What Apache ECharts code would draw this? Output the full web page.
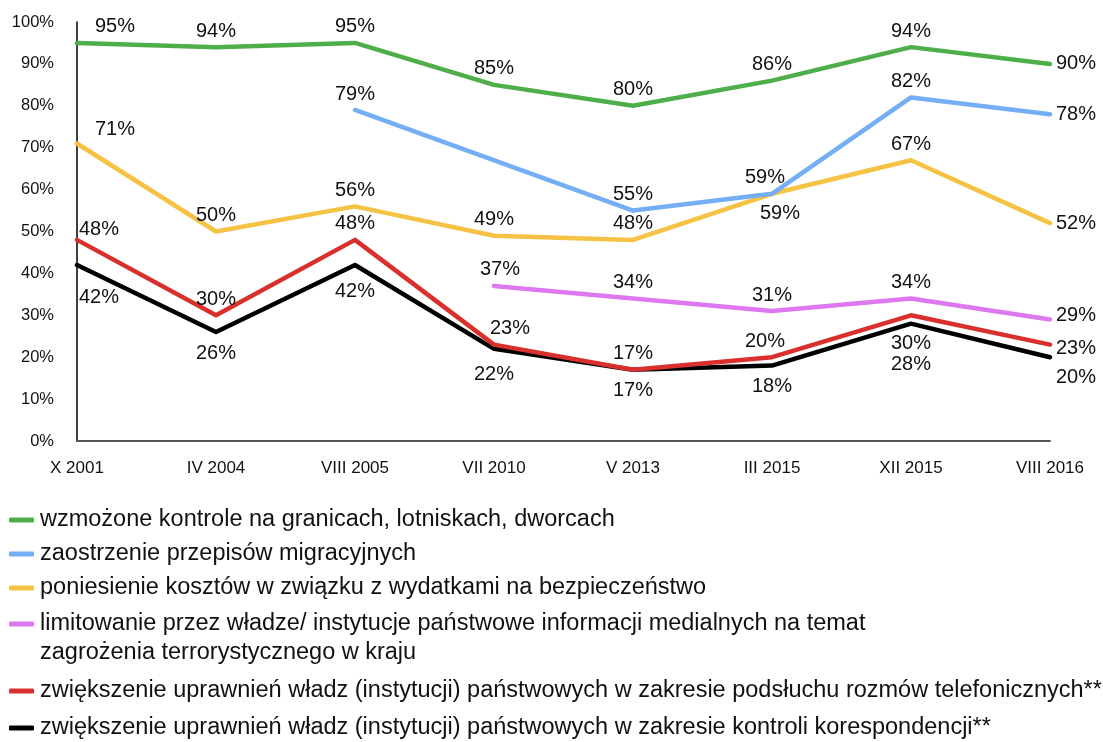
<!DOCTYPE html>
<html>
<head>
<meta charset="utf-8">
<script src="https://cdn.jsdelivr.net/npm/echarts@6/dist/echarts.min.js"></script>
<style>
  html, body { margin: 0; padding: 0; background: #fff; }
  #main { width: 1103px; height: 742px; }
</style>
</head>
<body>
<div id="main"></div>
<script>
const categories = ['X 2001', 'IV 2004', 'VIII 2005', 'VII 2010', 'V 2013', 'III 2015', 'XII 2015', 'VIII 2016'];
const yTicks = [0, 10, 20, 30, 40, 50, 60, 70, 80, 90, 100];

const names = [
    'wzmożone kontrole na granicach, lotniskach, dworcach',
    'zaostrzenie przepisów migracyjnych',
    'poniesienie kosztów w związku z wydatkami na bezpieczeństwo',
    'limitowanie przez władze/ instytucje państwowe informacji medialnych na temat',
    'zwiększenie uprawnień władz (instytucji) państwowych w zakresie podsłuchu rozmów telefonicznych**',
    'zwiększenie uprawnień władz (instytucji) państwowych w zakresie kontroli korespondencji**'
];
const secondLine = 'zagrożenia terrorystycznego w kraju';

const kontrole = [95, 94, 95, 85, 80, 86, 94, 90];
const migracja = [null, null, 79, null, 55, 59, 82, 78];
const koszty = [71, 50, 56, 49, 48, 59, 67, 52];
const media = [null, null, null, 37, 34, 31, 34, 29];
const podsluch = [48, 30, 48, 23, 17, 20, 30, 23];
const korespondencja = [42, 26, 42, 22, 17, 18, 28, 20];

const colors = ['#4dae4a', '#74aef4', '#f6c243', '#de78f0', '#d9302d', '#000000'];
const FONT = 'Liberation Sans, Arial, sans-serif';

// label placement per point: [position, dx, dy]
const T = ['top', 0, 0], R = ['right', 0, 0], B = ['bottom', 0, 5];
const labelSpec = [
    [['top', 38, 0], T, T, T, T, T, T, R],
    [null, null, T, null, T, ['top', -7, 0], T, R],
    [['top', 38, 2], T, T, T, T, ['bottom', 8, 4], T, R],
    [null, null, null, ['top', 6, 0], T, T, T, ['right', 0, -4]],
    [['top', 22, 6], T, T, ['top', 16, 0], T, ['top', -7, 0], ['bottom', 0, 12], ['right', 0, 4]],
    [['bottom', 22, 16], B, ['bottom', 0, 10], ['bottom', 0, 10], B, B, ['bottom', 0, 25], ['right', 0, 20]]
];

const values = [kontrole, migracja, koszty, media, podsluch, korespondencja];

function buildData(vals, spec) {
    return vals.map((v, i) => {
        if (v == null) return null;
        const s = spec[i] || T;
        return {
            value: v,
            label: { position: s[0], offset: [s[1], s[2]] }
        };
    });
}

const series = values.map((vals, k) => ({
    name: names[k],
    type: 'line',
    data: buildData(vals, labelSpec[k]),
    connectNulls: true,
    symbol: 'circle',
    symbolSize: 0,
    showSymbol: true,
    lineStyle: { color: colors[k], width: 4.5, cap: 'round', join: 'round' },
    itemStyle: { color: colors[k] },
    z: 10 - k,
    label: {
        show: true,
        formatter: '{c}%',
        fontSize: 20,
        fontFamily: FONT,
        color: '#111',
        distance: 6
    }
}));

const legendCenters = [519, 553, 587, 623, 690, 727];
const legends = names.map((n, k) => ({
    data: [n],
    left: 9,
    top: legendCenters[k] - 11,
    padding: 0,
    icon: 'roundRect',
    itemWidth: 25,
    itemHeight: 5,
    itemGap: 0,
    selectedMode: false,
    textStyle: {
        fontSize: 23.5,
        fontFamily: FONT,
        color: '#111',
        padding: [0, 0, 0, 1]
    }
}));

const chart = echarts.init(document.getElementById('main'));
chart.setOption({
    animation: false,
    grid: { left: 77, right: 53, top: 22, bottom: 301, containLabel: false },
    xAxis: {
        type: 'category',
        data: categories,
        boundaryGap: false,
        axisLine: { lineStyle: { color: '#555', width: 2 } },
        axisTick: { show: false },
        axisLabel: {
            fontSize: 17,
            fontFamily: FONT,
            color: '#111',
            margin: 19
        }
    },
    yAxis: {
        type: 'value',
        min: yTicks[0],
        max: yTicks[yTicks.length - 1],
        interval: 10,
        axisLine: { show: true, lineStyle: { color: '#000', width: 1.5 } },
        axisTick: { show: false },
        splitLine: { show: false },
        axisLabel: {
            formatter: '{value}%',
            fontSize: 16.5,
            fontFamily: FONT,
            color: '#111',
            margin: 23
        }
    },
    legend: legends,
    graphic: [{
        type: 'text',
        left: 40,
        top: 641,
        style: {
            text: secondLine,
            fontSize: 23.5,
            fontFamily: FONT,
            fill: '#111'
        }
    }],
    series: series
});
</script>
</body>
</html>
